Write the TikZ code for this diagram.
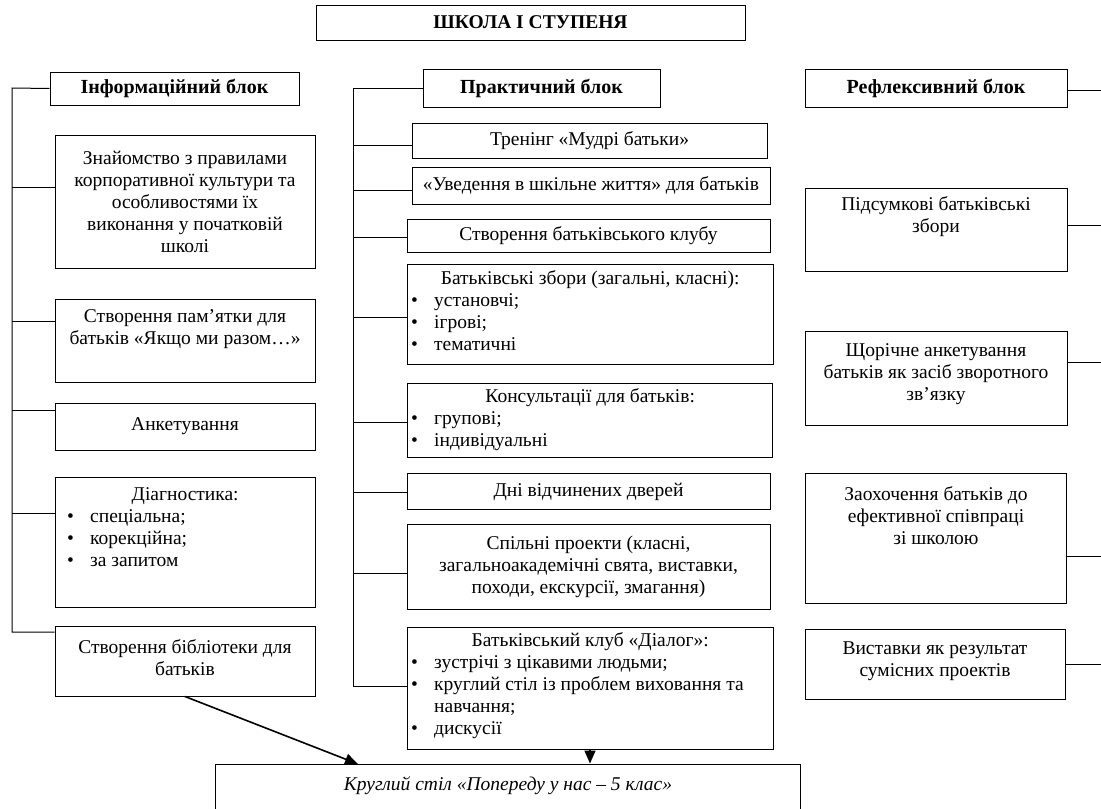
\documentclass[tikz,border=0pt]{standalone}
\usepackage{fontspec}
\setmainfont{Liberation Serif}
\usetikzlibrary{fit,arrows.meta}
\newcommand\blt{\makebox[23pt][l]{•}}
\tikzset{
  box/.style={draw=black, line width=1pt, inner sep=0pt},
  txt/.style={font=\fontsize{19.5}{22}\selectfont, inner sep=0pt, align=center},
  hdr/.style={font=\fontsize{20}{22}\selectfont\bfseries, inner sep=0pt, align=center},
  lst/.style={font=\fontsize{19.5}{22}\selectfont, inner sep=0pt, align=left, anchor=north west},
  conn/.style={line width=1pt},
  arr/.style={line width=1.6pt, -{Triangle[length=13pt,width=11pt]}}
}
\begin{document}
\begin{tikzpicture}[x=1pt,y=-1pt]
\useasboundingbox (0,0) rectangle (1101,809);
% title
\node[box, fit={(316,5) (745,40)}] (S) {};
\node[hdr, font=\fontsize{19.5}{22}\selectfont\bfseries] (St) at (S.center) {ШКОЛА І СТУПЕНЯ};
% ---------- left column
\node[box, fit={(50,72) (299,105)}] (I) {};
\node[hdr] (It) at (I.center) {Інформаційний блок};
\node[box, fit={(55,135) (315,268)}] (L1) {};
\node[txt] (L1t) at (L1.center) {Знайомство з правилами\\корпоративної культури та\\особливостями їх\\виконання у початковій\\школі};
\node[box, fit={(55,299) (315,382)}] (L2) {};
\node[txt, anchor=north] (L2t) at (185,309) {Створення пам’ятки для\\батьків «Якщо ми разом…»};
\node[box, fit={(55,403) (315,450)}] (L3) {};
\node[txt] (L3t) at (L3.center) {Анкетування};
\node[box, fit={(55,477) (315,607)}] (L4) {};
\node[lst] (L4t) at (67,487) {\makebox[236pt][c]{Діагностика:}\\\blt спеціальна;\\\blt корекційна;\\\blt за запитом};
\node[box, fit={(55,626) (315,696)}] (L5) {};
\node[txt] (L5t) at ([yshift=3pt]L5.center) {Створення бібліотеки для\\батьків};
\coordinate (lt) at (12,88);
\coordinate (lb) at (12,632);
\draw[conn] (I.west) -- (lt) -- (lb) -- (lb -| L5.west);
\coordinate (l1) at (12,187);
\coordinate (l2) at (12,321);
\coordinate (l3) at (12,410);
\coordinate (l4) at (12,513);
\draw[conn] (l1) -- (l1 -| L1.west);
\draw[conn] (l2) -- (l2 -| L2.west);
\draw[conn] (l3) -- (l3 -| L3.west);
\draw[conn] (l4) -- (l4 -| L4.west);
% ---------- middle column
\node[box, fit={(423,69) (660,107)}] (P) {};
\node[hdr] (Pt) at (P.center) {Практичний блок};
\node[box, fit={(412,123) (767,158)}] (M1) {};
\node[txt] (M1t) at (M1.center) {Тренінг «Мудрі батьки»};
\node[box, fit={(412,167) (770,204)}] (M2) {};
\node[txt] (M2t) at (M2.center) {«Уведення в шкільне життя» для батьків};
\node[box, fit={(407,219) (770,252)}] (M3) {};
\node[txt] (M3t) at (M3.center) {Створення батьківського клубу};
\node[box, fit={(407,264) (773,364)}] (M4) {};
\node[lst] (M4t) at (411,270) {\makebox[358pt][c]{Батьківські збори (загальні, класні):}\\\blt установчі;\\\blt ігрові;\\\blt тематичні};
\node[box, fit={(407,383) (772,457)}] (M5) {};
\node[lst] (M5t) at (411,388) {\makebox[358pt][c]{Консультації для батьків:}\\\blt групові;\\\blt індивідуальні};
\node[box, fit={(407,473) (770,509)}] (M6) {};
\node[txt] (M6t) at ([yshift=-1pt]M6.center) {Дні відчинених дверей};
\node[box, fit={(407,524) (770,609)}] (M7) {};
\node[txt] (M7t) at (M7.center) {Спільні проекти (класні,\\загальноакадемічні свята, виставки,\\походи, екскурсії, змагання)};
\node[box, fit={(407,627) (773,749)}] (M8) {};
\node[lst] (M8t) at (411,632) {\makebox[358pt][c]{Батьківський клуб «Діалог»:}\\\blt зустрічі з цікавими людьми;\\\blt круглий стіл із проблем виховання та\\\hspace*{23pt}навчання;\\\blt дискусії};
\coordinate (mt) at (353,88);
\coordinate (mb) at (353,686);
\draw[conn] (P.west) -- (mt) -- (mb) -- (mb -| M8.west);
\coordinate (m1) at (353,145);
\coordinate (m2) at (353,190);
\coordinate (m3) at (353,237);
\coordinate (m4) at (353,317);
\coordinate (m5) at (353,422);
\coordinate (m6) at (353,492);
\coordinate (m7) at (353,573);
\draw[conn] (m1) -- (m1 -| M1.west);
\draw[conn] (m2) -- (m2 -| M2.west);
\draw[conn] (m3) -- (m3 -| M3.west);
\draw[conn] (m4) -- (m4 -| M4.west);
\draw[conn] (m5) -- (m5 -| M5.west);
\draw[conn] (m6) -- (m6 -| M6.west);
\draw[conn] (m7) -- (m7 -| M7.west);
% ---------- right column
\node[box, fit={(805,69) (1067,107)}] (R) {};
\node[hdr] (Rt) at (R.center) {Рефлексивний блок};
\node[box, fit={(805,188) (1067,271)}] (R1) {};
\node[txt, anchor=north] (R1t) at (936,196) {Підсумкові батьківські\\збори};
\node[box, fit={(805,331) (1067,425)}] (R2) {};
\node[txt] (R2t) at ([yshift=4pt]R2.center) {Щорічне анкетування\\батьків як засіб зворотного\\зв’язку};
\node[box, fit={(805,473) (1066,603)}] (R3) {};
\node[txt, anchor=north] (R3t) at (936,486) {Заохочення батьків до\\ефективної співпраці\\зі школою};
\node[box, fit={(805,629) (1065,699)}] (R4) {};
\node[txt] (R4t) at ([yshift=3pt]R4.center) {Виставки як результат\\сумісних проектів};
\coordinate (r0) at (1101,90);
\coordinate (r1) at (1101,225);
\coordinate (r2) at (1101,362);
\coordinate (r3) at (1101,556);
\coordinate (r4) at (1101,664);
\draw[conn] (r0 -| R.east) -- (r0);
\draw[conn] (r1 -| R1.east) -- (r1);
\draw[conn] (r2 -| R2.east) -- (r2);
\draw[conn] (r3 -| R3.east) -- (r3);
\draw[conn] (r4 -| R4.east) -- (r4);
% ---------- bottom
\node[box, fit={(215,764) (800,840)}] (K) {};
\node[txt, font=\fontsize{19.5}{22}\selectfont\itshape] (Kt) at (508,786) {Круглий стіл «Попереду у нас – 5 клас»};
\coordinate (k1) at (358,764);
\draw[arr] (L5.south) -- (k1);
\draw[arr] (M8.south) -- (M8.south |- K.north);
\end{tikzpicture}
\end{document}
